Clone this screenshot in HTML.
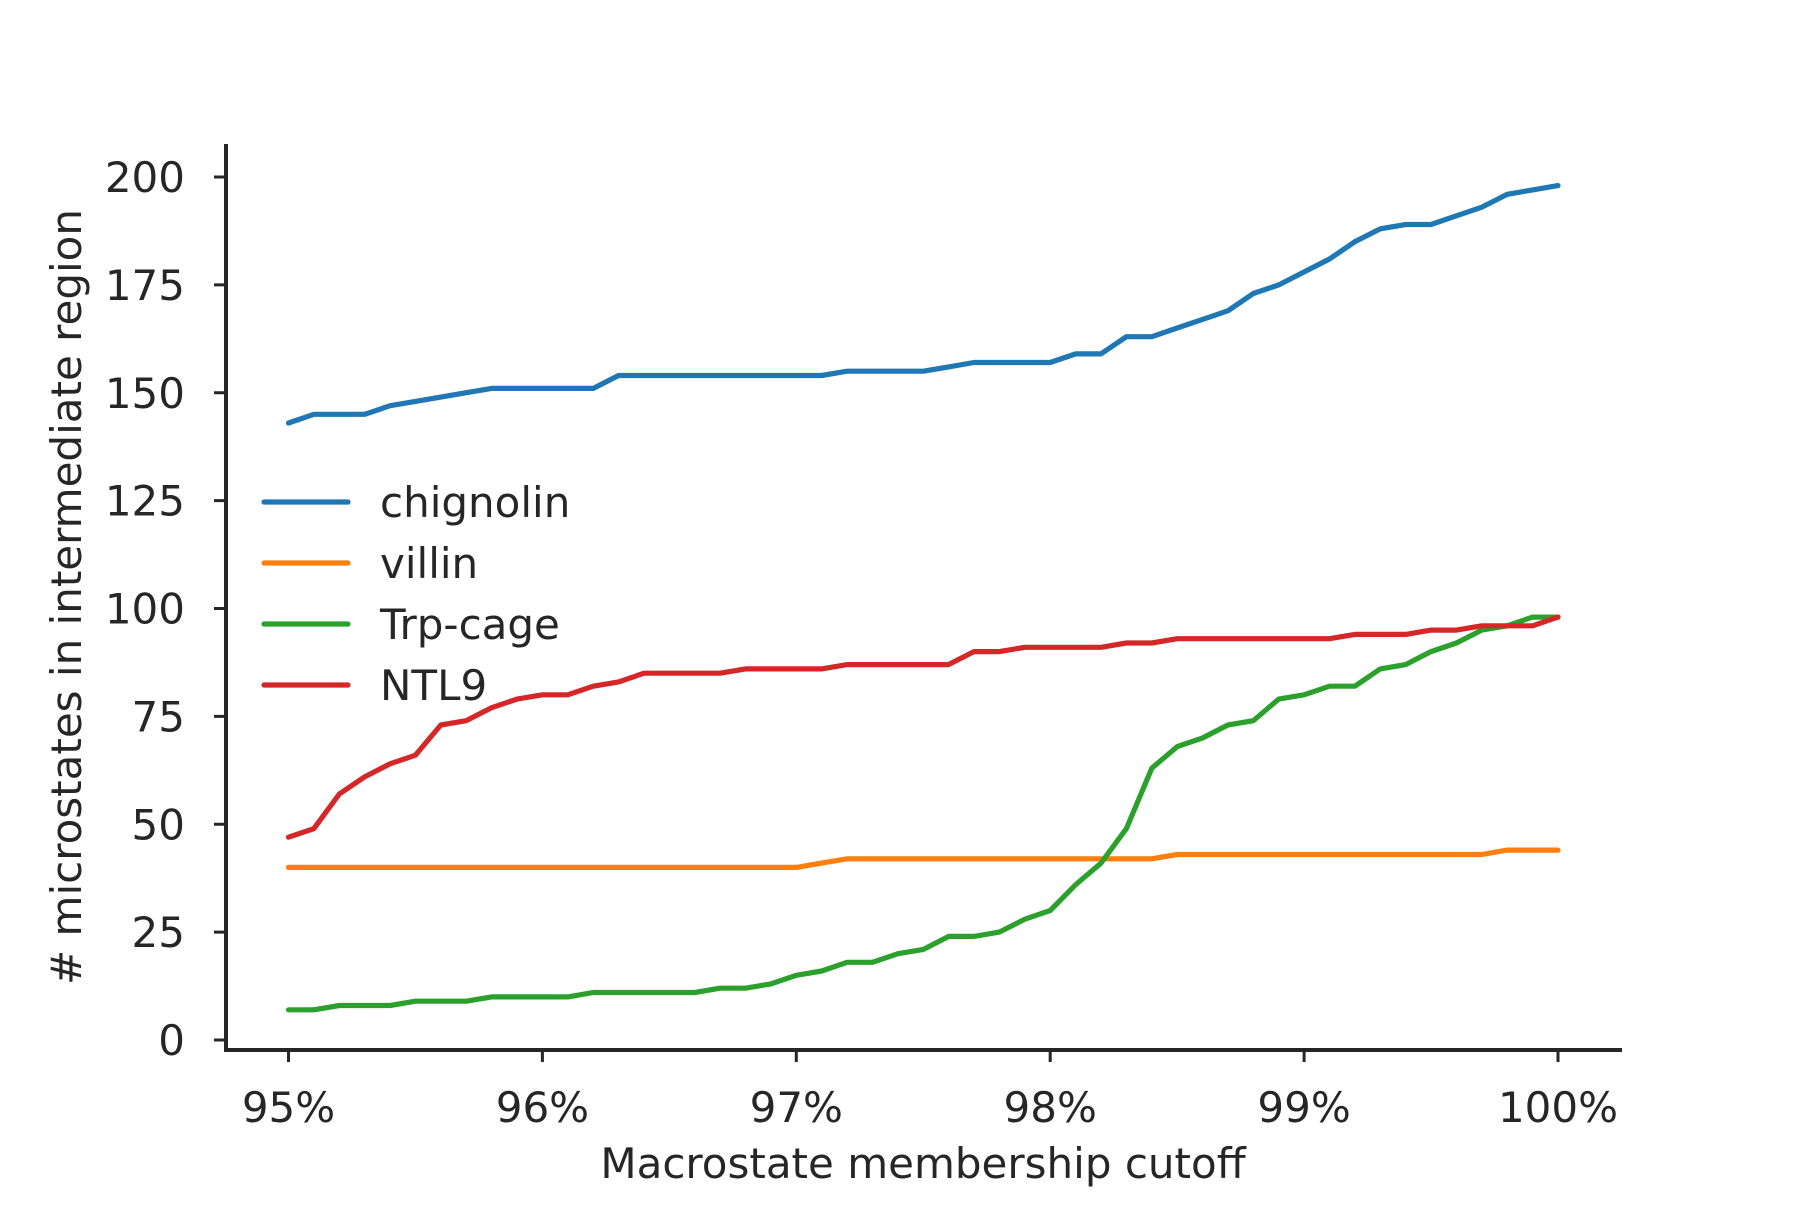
<!DOCTYPE html>
<html><head><meta charset="utf-8"><style>
html,body{margin:0;padding:0;background:#fff;}
svg text{font-family:"DejaVu Sans","Liberation Sans",sans-serif;fill:#262626;}
</style></head><body>
<svg id="chart" width="1800" height="1200" viewBox="0 0 1800 1200" xmlns="http://www.w3.org/2000/svg">
<g id="axes"></g><g id="series"></g><g id="legend"></g>
</svg>
<script>
const xCuts = [95.0,95.1,95.2,95.3,95.4,95.5,95.6,95.7,95.8,95.9,96.0,96.1,96.2,96.3,96.4,96.5,96.6,96.7,96.8,96.9,97.0,97.1,97.2,97.3,97.4,97.5,97.6,97.7,97.8,97.9,98.0,98.1,98.2,98.3,98.4,98.5,98.6,98.7,98.8,98.9,99.0,99.1,99.2,99.3,99.4,99.5,99.6,99.7,99.8,99.9,100.0];
const chignolin = [143,145,145,145,147,148,149,150,151,151,151,151,151,154,154,154,154,154,154,154,154,154,155,155,155,155,156,157,157,157,157,159,159,163,163,165,167,169,173,175,178,181,185,188,189,189,191,193,196,197,198];
const villin = [40,40,40,40,40,40,40,40,40,40,40,40,40,40,40,40,40,40,40,40,40,41,42,42,42,42,42,42,42,42,42,42,42,42,42,43,43,43,43,43,43,43,43,43,43,43,43,43,44,44,44];
const trpcage = [7,7,8,8,8,9,9,9,10,10,10,10,11,11,11,11,11,12,12,13,15,16,18,18,20,21,24,24,25,28,30,36,41,49,63,68,70,73,74,79,80,82,82,86,87,90,92,95,96,98,98];
const ntl9 = [47,49,57,61,64,66,73,74,77,79,80,80,82,83,85,85,85,85,86,86,86,86,87,87,87,87,87,90,90,91,91,91,91,92,92,93,93,93,93,93,93,93,94,94,94,95,95,96,96,96,98];
const seriesNames = ["chignolin","villin","Trp-cage","NTL9"];
const seriesColors = ["#1f77b4","#ff7f0e","#2ca02c","#d62728"];
const xTicks = [95,96,97,98,99,100];
const xTickLabels = ["95%","96%","97%","98%","99%","100%"];
const yTicks = [0,25,50,75,100,125,150,175,200];

const NS="http://www.w3.org/2000/svg";
function xs(v){return 288.5+(v-95)*253.9;}
function ys(v){return 1040-v*(863/200);}
function mk(tag,attrs,parent,txt){const e=document.createElementNS(NS,tag);for(const k in attrs)e.setAttribute(k,attrs[k]);if(txt!==undefined)e.textContent=txt;parent.appendChild(e);return e;}
const axes=document.getElementById('axes');
let e;
e=mk('line',{x1:226,y1:144,x2:226,y2:1052,stroke:'#262626','stroke-width':4},axes);


e=mk('line',{x1:224,y1:1050,x2:1622,y2:1050,stroke:'#262626','stroke-width':4},axes);


yTicks.forEach(t=>{
  const y=ys(t);
  e=mk('line',{x1:214,y1:y,x2:226,y2:y,stroke:'#262626','stroke-width':3},axes);
  
  
  e=mk('text',{x:185,y:y+15,'text-anchor':'end','font-size':42},axes,String(t));
  
  
});
xTicks.forEach((t,i)=>{
  const x=xs(t);
  e=mk('line',{x1:x,y1:1050,x2:x,y2:1062,stroke:'#262626','stroke-width':3},axes);
  
  
  e=mk('text',{x:x,y:1122,'text-anchor':'middle','font-size':42},axes,xTickLabels[i]);
  
  
});
e=mk('text',{x:923,y:1178,'text-anchor':'middle','font-size':42},axes,'Macrostate membership cutoff');


e=mk('text',{x:0,y:0,'text-anchor':'middle','font-size':42,transform:'translate(81,597) rotate(-90)'},axes,'# microstates in intermediate region');



const series=document.getElementById('series');
[chignolin,villin,trpcage,ntl9].forEach((vals,si)=>{
  const d=vals.map((v,i)=>(i?'L':'M')+xs(xCuts[i]).toFixed(1)+','+ys(v).toFixed(1)).join(' ');
  const p=mk('path',{d:d,fill:'none',stroke:seriesColors[si],'stroke-width':5.2,'stroke-linejoin':'round','stroke-linecap':'round'},series);
  
  
});
const legend=document.getElementById('legend');
seriesNames.forEach((n,i)=>{
  const y=502+i*61;
  const g=mk('g',{},legend);
  
  
  mk('line',{x1:264,y1:y,x2:348,y2:y,stroke:seriesColors[i],'stroke-width':5.2,'stroke-linecap':'round'},g);
  mk('text',{x:380,y:y+15,'font-size':42},g,n);
});
</script>
</body></html>
